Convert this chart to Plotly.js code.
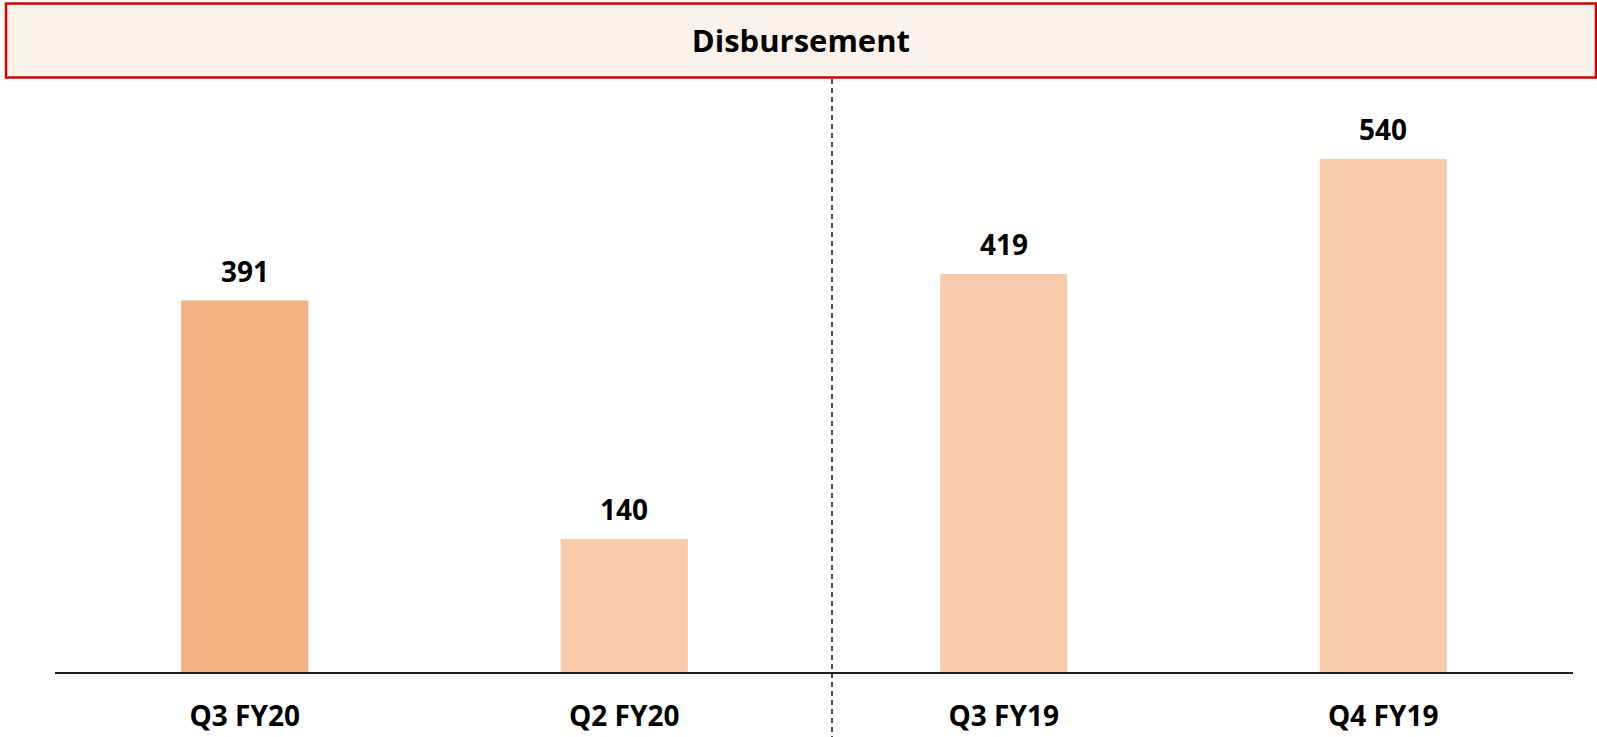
<!DOCTYPE html>
<html>
<head>
<meta charset="utf-8">
<script src="https://cdn.plot.ly/plotly-3.0.1.min.js"></script>
<style>html,body{margin:0;padding:0;background:#fff;}#chart{width:1597px;height:737px;}</style>
</head>
<body>
<div id="chart"></div>
<script>
const categories = ["Q3 FY20", "Q2 FY20", "Q3 FY19", "Q4 FY19"];
const disbursement = [391, 140, 419, 540];
const barColors = ["#F4B183", "#F8CBAD", "#F8CBAD", "#F8CBAD"];
const chartTitle = "Disbursement";

const FONT = "Open Sans, sans-serif";

const trace = {
  type: "bar",
  x: categories,
  y: disbursement,
  marker: { color: barColors, line: { width: 0 } },
  hoverinfo: "x+y"
};

const annotations = categories.map((c, i) => ({
  x: c, y: disbursement[i], xref: "x", yref: "y",
  text: String(disbursement[i]),
  showarrow: false, yanchor: "middle", yshift: 30,
  font: { family: FONT, size: 28, color: "#000", weight: 700 }
}));

const layout = {
  width: 1597, height: 737,
  margin: { l: 55, r: 24, t: 80, b: 65 },
  paper_bgcolor: "#ffffff", plot_bgcolor: "#ffffff",
  showlegend: false,
  bargap: 0.665,
  title: {
    text: "<b>" + chartTitle + "</b>",
    x: 0.5015, xref: "container", xanchor: "center",
    y: 1 - 41 / 737, yref: "container", yanchor: "middle",
    font: { family: FONT, size: 31, color: "#000" }
  },
  xaxis: {
    type: "category",
    showline: true, linecolor: "#222", linewidth: 2,
    ticks: "", showgrid: false, zeroline: false,
    ticklabelstandoff: 18,
    tickfont: { family: FONT, size: 28, color: "#000", weight: 700 }
  },
  yaxis: {
    range: [0, 623.16], visible: false, showgrid: false, zeroline: false
  },
  annotations: annotations,
  shapes: [
    {
      type: "rect", xref: "paper", yref: "paper",
      x0: (6 - 55) / 1518, x1: (1596 - 55) / 1518,
      y0: (672 - 77.5) / 592, y1: (672 - 3.5) / 592,
      fillcolor: "#FDF2E9", line: { color: "#D00000", width: 2.5 }, layer: "below"
    },
    {
      type: "line", xref: "paper", yref: "paper",
      x0: (832 - 55) / 1518, x1: (832 - 55) / 1518,
      y0: (672 - 79) / 592, y1: (672 - 740) / 592,
      line: { color: "#000", width: 1.4, dash: "5px,4px" }
    }
  ]
};

Plotly.newPlot("chart", [trace], layout, { displayModeBar: false, staticPlot: true });
</script>
</body>
</html>
